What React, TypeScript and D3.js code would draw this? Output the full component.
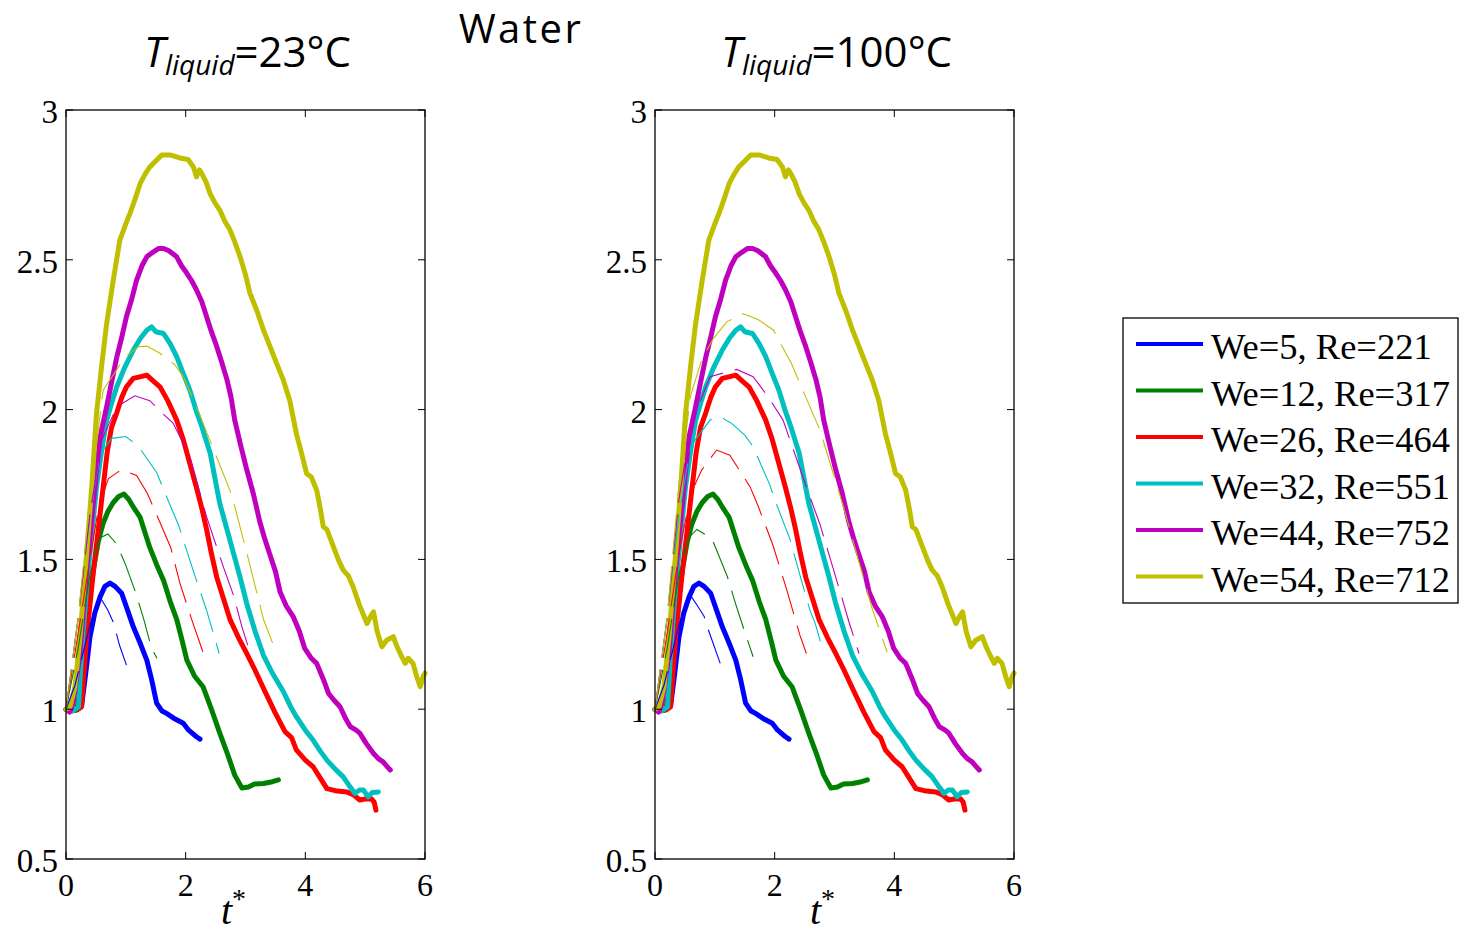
import React from "react";
import * as d3 from "d3";

type P = [number, number];

// ---- Data ----
const seriesLabels = ["We=5, Re=221", "We=12, Re=317", "We=26, Re=464", "We=32, Re=551", "We=44, Re=752", "We=54, Re=712"];
const seriesColors = ["#0000FF", "#008000", "#FF0000", "#00BFBF", "#BF00BF", "#BFBF00"];
const xTicks = [0, 2, 4, 6];
const yTicks = [0.5, 1, 1.5, 2, 2.5, 3];
const panelTitles = ["23°C", "100°C"];

// Experimental (solid) curves, identical in both panels
const expWe5: P[] = [[0,1],[0.1,0.995],[0.2,1.0],[0.26,1.01],[0.33,1.12],[0.4,1.24],[0.48,1.32],[0.57,1.375],[0.65,1.41],[0.735,1.421],[0.82,1.41],[0.93,1.387],[1.03,1.33],[1.125,1.275],[1.24,1.22],[1.35,1.164],[1.43,1.10],[1.515,1.02],[1.6,0.995],[1.68,0.986],[1.8,0.97],[1.96,0.953],[2.05,0.93],[2.18,0.908],[2.24,0.9]];
const expWe12: P[] = [[0,1],[0.1,0.995],[0.18,0.997],[0.25,1.08],[0.32,1.22],[0.4,1.38],[0.457,1.464],[0.54,1.56],[0.62,1.62],[0.7,1.66],[0.79,1.69],[0.88,1.71],[0.97,1.718],[1.05,1.70],[1.14,1.67],[1.24,1.64],[1.32,1.59],[1.40,1.54],[1.52,1.48],[1.63,1.43],[1.74,1.36],[1.85,1.30],[1.94,1.23],[2.02,1.164],[2.15,1.11],[2.29,1.075],[2.43,1.0],[2.57,0.92],[2.7,0.85],[2.82,0.78],[2.94,0.737],[3.05,0.74],[3.15,0.75],[3.3,0.752],[3.45,0.758],[3.55,0.764]];
const expWe26: P[] = [[0,1],[0.12,0.995],[0.2,1.0],[0.26,1.008],[0.345,1.242],[0.46,1.464],[0.54,1.60],[0.62,1.74],[0.69,1.86],[0.76,1.94],[0.85,1.99],[0.93,2.04],[1.01,2.076],[1.125,2.104],[1.25,2.11],[1.35,2.115],[1.46,2.095],[1.57,2.076],[1.7,2.03],[1.85,1.965],[1.96,1.90],[2.07,1.82],[2.18,1.74],[2.27,1.67],[2.35,1.60],[2.43,1.52],[2.52,1.44],[2.63,1.37],[2.74,1.30],[2.88,1.24],[3.02,1.186],[3.16,1.13],[3.30,1.07],[3.49,0.99],[3.66,0.925],[3.77,0.905],[3.85,0.864],[4.0,0.83],[4.13,0.808],[4.25,0.77],[4.36,0.735],[4.5,0.728],[4.69,0.724],[4.8,0.715],[4.91,0.697],[5.0,0.70],[5.11,0.70],[5.15,0.69],[5.18,0.663]];
const expWe32: P[] = [[0,1],[0.12,0.995],[0.21,1.008],[0.26,1.186],[0.345,1.408],[0.43,1.58],[0.51,1.742],[0.6,1.87],[0.68,1.965],[0.76,2.02],[0.85,2.077],[0.98,2.14],[1.125,2.199],[1.25,2.24],[1.35,2.265],[1.43,2.276],[1.5,2.26],[1.63,2.254],[1.74,2.22],[1.85,2.177],[1.96,2.12],[2.07,2.065],[2.17,2.0],[2.27,1.943],[2.41,1.854],[2.49,1.77],[2.57,1.687],[2.69,1.60],[2.80,1.52],[2.91,1.44],[3.02,1.353],[3.16,1.26],[3.30,1.18],[3.45,1.12],[3.63,1.06],[3.75,1.01],[3.85,0.975],[4.0,0.93],[4.13,0.897],[4.25,0.86],[4.36,0.83],[4.5,0.80],[4.63,0.775],[4.75,0.74],[4.83,0.719],[4.9,0.73],[4.97,0.73],[5.05,0.708],[5.12,0.722],[5.22,0.724]];
const expWe44: P[] = [[0,1],[0.06,0.99],[0.12,1.02],[0.234,1.186],[0.345,1.464],[0.457,1.688],[0.57,1.909],[0.68,2.01],[0.76,2.09],[0.85,2.176],[0.93,2.24],[1.01,2.31],[1.1,2.37],[1.18,2.432],[1.27,2.48],[1.35,2.51],[1.45,2.525],[1.55,2.538],[1.63,2.538],[1.72,2.53],[1.85,2.51],[1.93,2.48],[2.02,2.455],[2.1,2.43],[2.18,2.40],[2.27,2.36],[2.35,2.31],[2.43,2.26],[2.52,2.21],[2.6,2.16],[2.69,2.10],[2.76,2.04],[2.82,1.965],[2.92,1.88],[3.02,1.80],[3.13,1.72],[3.24,1.625],[3.32,1.57],[3.41,1.515],[3.5,1.46],[3.58,1.39],[3.68,1.345],[3.80,1.308],[3.9,1.26],[3.99,1.203],[4.1,1.17],[4.19,1.153],[4.3,1.10],[4.39,1.052],[4.48,1.03],[4.58,1.008],[4.67,0.97],[4.75,0.942],[4.85,0.93],[4.91,0.92],[5.02,0.885],[5.14,0.852],[5.22,0.835],[5.30,0.824],[5.36,0.81],[5.42,0.797]];
const expWe54: P[] = [[0,1],[0.067,1.008],[0.15,1.075],[0.234,1.242],[0.345,1.52],[0.43,1.742],[0.51,1.987],[0.6,2.154],[0.68,2.288],[0.79,2.432],[0.9,2.566],[1.0,2.62],[1.07,2.655],[1.15,2.70],[1.24,2.755],[1.32,2.785],[1.40,2.81],[1.5,2.83],[1.6,2.85],[1.74,2.85],[1.9,2.84],[2.04,2.835],[2.13,2.81],[2.18,2.777],[2.23,2.80],[2.27,2.788],[2.34,2.76],[2.41,2.72],[2.49,2.69],[2.57,2.666],[2.65,2.63],[2.74,2.60],[2.82,2.56],[2.91,2.51],[3.0,2.45],[3.075,2.388],[3.19,2.33],[3.30,2.266],[3.41,2.21],[3.52,2.154],[3.63,2.10],[3.74,2.03],[3.80,1.97],[3.85,1.92],[3.93,1.86],[4.02,1.787],[4.1,1.775],[4.19,1.731],[4.25,1.67],[4.30,1.609],[4.36,1.60],[4.47,1.542],[4.55,1.50],[4.63,1.465],[4.72,1.445],[4.80,1.408],[4.9,1.35],[5.03,1.286],[5.09,1.31],[5.14,1.325],[5.2,1.26],[5.28,1.208],[5.36,1.23],[5.47,1.242],[5.53,1.21],[5.6,1.18],[5.67,1.153],[5.72,1.17],[5.80,1.153],[5.86,1.11],[5.92,1.075],[5.97,1.11],[6.0,1.12]];

// Simulation (dashed) curves, T = 23°C
const sim23We5: P[] = [[0,1],[0.15,1.08],[0.3,1.2],[0.45,1.32],[0.55,1.37],[0.6,1.364],[0.7,1.33],[0.79,1.29],[0.9,1.21],[1.01,1.147]];
const sim23We12: P[] = [[0,1],[0.2,1.2],[0.4,1.45],[0.55,1.57],[0.7,1.585],[0.85,1.55],[1.0,1.48],[1.17,1.386],[1.3,1.30],[1.43,1.203],[1.52,1.17]];
const sim23We26: P[] = [[0,1],[0.2,1.25],[0.4,1.5],[0.55,1.68],[0.71,1.77],[0.93,1.80],[1.18,1.78],[1.36,1.72],[1.6,1.61],[1.75,1.54],[1.905,1.42],[2.1,1.30],[2.29,1.19]];
const sim23We32: P[] = [[0,1],[0.2,1.3],[0.4,1.65],[0.57,1.85],[0.76,1.904],[1.0,1.91],[1.2,1.88],[1.515,1.79],[1.7,1.70],[1.88,1.615],[2.0,1.54],[2.17,1.436],[2.35,1.33],[2.56,1.186]];
const sim23We44: P[] = [[0,1],[0.2,1.3],[0.4,1.65],[0.6,1.9],[0.85,2.01],[1.15,2.046],[1.40,2.03],[1.6,1.99],[1.79,1.955],[2.07,1.842],[2.35,1.642],[2.63,1.475],[2.8,1.38],[2.94,1.275],[3.075,1.19]];
const sim23We54: P[] = [[0,1],[0.2,1.3],[0.4,1.7],[0.62,2.065],[0.99,2.176],[1.21,2.21],[1.35,2.212],[1.57,2.188],[1.82,2.149],[1.96,2.11],[2.24,1.98],[2.5,1.85],[2.77,1.715],[3.05,1.50],[3.30,1.30],[3.52,1.186]];

// Simulation (dashed) curves, T = 100°C
const sim100We5: P[] = [[0,1],[0.15,1.08],[0.3,1.2],[0.45,1.32],[0.61,1.375],[0.72,1.342],[0.82,1.31],[0.9,1.26],[1.09,1.153]];
const sim100We12: P[] = [[0,1],[0.2,1.2],[0.4,1.45],[0.55,1.57],[0.7,1.60],[0.95,1.57],[1.21,1.442],[1.35,1.35],[1.5,1.258],[1.64,1.175]];
const sim100We26: P[] = [[0,1],[0.2,1.25],[0.4,1.52],[0.6,1.72],[0.78,1.798],[1.03,1.865],[1.25,1.848],[1.59,1.742],[1.72,1.68],[1.97,1.548],[2.2,1.40],[2.42,1.248],[2.53,1.186]];
const sim100We32: P[] = [[0,1],[0.2,1.3],[0.4,1.65],[0.6,1.88],[0.92,1.965],[1.09,1.976],[1.28,1.954],[1.5,1.915],[1.64,1.876],[1.92,1.748],[2.0,1.70],[2.26,1.565],[2.32,1.52],[2.59,1.33],[2.68,1.285],[2.815,1.19]];
const sim100We44: P[] = [[0,1],[0.2,1.3],[0.4,1.7],[0.6,1.95],[0.92,2.11],[1.365,2.134],[1.64,2.11],[1.89,2.043],[2.14,1.965],[2.53,1.742],[2.76,1.615],[2.97,1.475],[3.25,1.286],[3.41,1.186]];
const sim100We54: P[] = [[0,1],[0.2,1.3],[0.4,1.75],[0.6,2.05],[0.78,2.166],[0.975,2.237],[1.2,2.293],[1.476,2.32],[1.73,2.30],[1.98,2.265],[2.28,2.154],[2.76,1.93],[3.15,1.675],[3.62,1.342],[3.88,1.19]];

const experimental = [expWe5, expWe12, expWe26, expWe32, expWe44, expWe54];
const simulations = [
  [sim23We5, sim23We12, sim23We26, sim23We32, sim23We44, sim23We54],
  [sim100We5, sim100We12, sim100We26, sim100We32, sim100We44, sim100We54],
];

// ---- Layout ----
const W = 1463, H = 932;
const panelLefts = [66, 655];
const panelWidth = 359;
const top = 110, bottom = 859;
const serif = "'Liberation Serif', 'Times New Roman', serif";
const sans = "'Open Sans', 'Noto Sans', sans-serif";

function Panel({ idx }: { idx: number }) {
  const x0 = panelLefts[idx];
  const x = d3.scaleLinear().domain([0, 6]).range([x0, x0 + panelWidth]);
  const y = d3.scaleLinear().domain([0.5, 3]).range([bottom, top]);
  const line = d3.line<P>().x(d => x(d[0])).y(d => y(d[1]));
  const tl = 7;
  const cx = (x0 + x0 + panelWidth) / 2;
  return (
    <g>
      {/* title */}
      <text x={cx + 2} y={67} textAnchor="middle" fontFamily={sans} fontSize={42} fill="#000">
        <tspan fontStyle="italic">T</tspan>
        <tspan fontStyle="italic" fontSize={28} dy={8}>liquid</tspan>
        <tspan dy={-8}>={panelTitles[idx]}</tspan>
      </text>
      {/* curves */}
      {experimental.map((d, i) => (
        <path key={"e" + i} d={line(d) || ""} fill="none" stroke={seriesColors[i]} strokeWidth={5} strokeLinejoin="round" strokeLinecap="round" />
      ))}
      {simulations[idx].map((d, i) => (
        <path key={"s" + i} d={line(d) || ""} fill="none" stroke={seriesColors[i]} strokeWidth={1.1} strokeDasharray="40 12" />
      ))}
      {/* box */}
      <rect x={x0} y={top} width={panelWidth} height={bottom - top} fill="none" stroke="#000" strokeWidth={1.3} />
      {/* ticks */}
      {xTicks.map(t => (
        <g key={"xt" + t}>
          <line x1={x(t)} x2={x(t)} y1={bottom} y2={bottom - tl} stroke="#000" strokeWidth={1} />
          <line x1={x(t)} x2={x(t)} y1={top} y2={top + tl} stroke="#000" strokeWidth={1} />
          <text x={x(t)} y={bottom + 37} textAnchor="middle" fontFamily={serif} fontSize={32}>{t}</text>
        </g>
      ))}
      {yTicks.map(t => (
        <g key={"yt" + t}>
          <line x1={x0} x2={x0 + tl} y1={y(t)} y2={y(t)} stroke="#000" strokeWidth={1} />
          <line x1={x0 + panelWidth} x2={x0 + panelWidth - tl} y1={y(t)} y2={y(t)} stroke="#000" strokeWidth={1} />
          <text x={x0 - 8} y={y(t) + 13} textAnchor="end" fontFamily={serif} fontSize={33}>{t}</text>
        </g>
      ))}
      {/* x label */}
      <text x={cx - 12} y={924} textAnchor="middle" fontFamily={serif} fontSize={40} fontStyle="italic">
        t<tspan fontSize={28} dy={-16} fontStyle="normal">*</tspan>
      </text>
    </g>
  );
}

function Legend() {
  const lx = 1123, ly = 318, lw = 335, lh = 285;
  const rowY = d3.range(seriesLabels.length).map(i => 344 + i * 46.5);
  return (
    <g>
      <rect x={lx} y={ly} width={lw} height={lh} fill="#fff" stroke="#000" strokeWidth={1.3} />
      {seriesLabels.map((s, i) => (
        <g key={s}>
          <line x1={1136} x2={1203} y1={rowY[i]} y2={rowY[i]} stroke={seriesColors[i]} strokeWidth={4} />
          <text x={1211} y={rowY[i] + 15} fontFamily={serif} fontSize={36.5}>{s}</text>
        </g>
      ))}
    </g>
  );
}

export default function App() {
  return (
    <svg width={W} height={H} style={{ position: "absolute", left: 0, top: 0, background: "#fff" }}>
      <rect x={0} y={0} width={W} height={H} fill="#fff" />
      <text x={521} y={43} textAnchor="middle" fontFamily={sans} fontSize={40} letterSpacing={2.5}>Water</text>
      <Panel idx={0} />
      <Panel idx={1} />
      <Legend />
    </svg>
  );
}
